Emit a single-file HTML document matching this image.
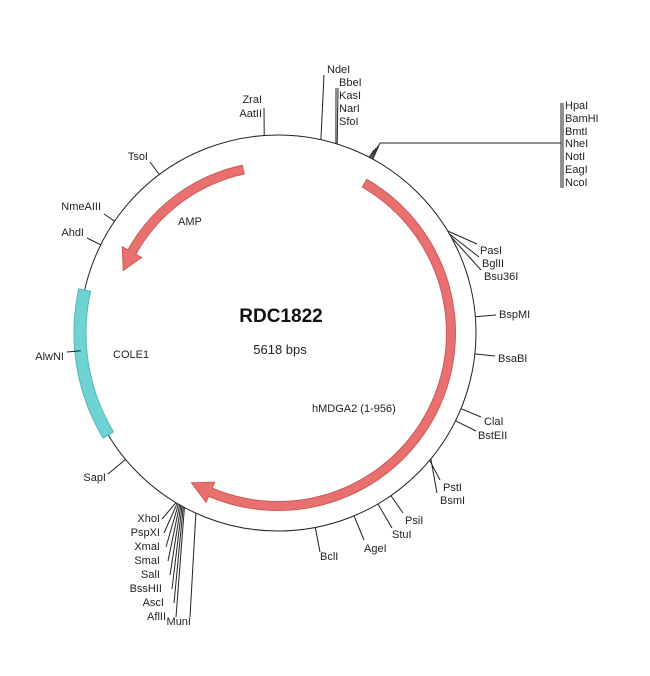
<!DOCTYPE html>
<html><head><meta charset="utf-8">
<style>
html,body{margin:0;padding:0;background:#fff;}
svg{display:block;}
text{font-family:"Liberation Sans",sans-serif;font-size:11px;fill:#222;}
</style></head>
<body>
<svg id="s" width="650" height="676" viewBox="0 0 650 676" xmlns="http://www.w3.org/2000/svg">
<circle cx="278" cy="333" r="198" fill="none" stroke="#222" stroke-width="1"/>
<g id="arcs"></g>
<g id="ticks" stroke="#222" stroke-width="1" fill="none"></g>
<text x="281" y="322" text-anchor="middle" style="font-size:19px;font-weight:bold;fill:#111">RDC1822</text>
<text x="280" y="354" text-anchor="middle" style="font-size:13px">5618 bps</text>
<text x="178" y="225">AMP</text>
<text x="113" y="358">COLE1</text>
<text x="312" y="412">hMDGA2 (1-956)</text>

<text x="327" y="73">NdeI</text>
<text x="339" y="86">BbeI</text>
<text x="339" y="99">KasI</text>
<text x="339" y="112">NarI</text>
<text x="339" y="125">SfoI</text>
<text x="262" y="103" text-anchor="end">ZraI</text>
<text x="262" y="117" text-anchor="end">AatII</text>
<text x="565" y="109">HpaI</text>
<text x="565" y="122">BamHI</text>
<text x="565" y="135">BmtI</text>
<text x="565" y="147">NheI</text>
<text x="565" y="160">NotI</text>
<text x="565" y="173">EagI</text>
<text x="565" y="186">NcoI</text>
<text x="148" y="160" text-anchor="end">TsoI</text>
<text x="101" y="210" text-anchor="end">NmeAIII</text>
<text x="84" y="236" text-anchor="end">AhdI</text>
<text x="64" y="360" text-anchor="end">AlwNI</text>
<text x="106" y="481" text-anchor="end">SapI</text>
<text x="160" y="522" text-anchor="end">XhoI</text>
<text x="160" y="536" text-anchor="end">PspXI</text>
<text x="160" y="550" text-anchor="end">XmaI</text>
<text x="160" y="564" text-anchor="end">SmaI</text>
<text x="160" y="578" text-anchor="end">SalI</text>
<text x="162" y="592" text-anchor="end">BssHII</text>
<text x="164" y="606" text-anchor="end">AscI</text>
<text x="166" y="620" text-anchor="end">AflII</text>
<text x="191" y="625" text-anchor="end">MunI</text>
<text x="480" y="254">PasI</text>
<text x="482" y="267">BglII</text>
<text x="484" y="280">Bsu36I</text>
<text x="499" y="318">BspMI</text>
<text x="498" y="362">BsaBI</text>
<text x="484" y="425">ClaI</text>
<text x="478" y="439">BstEII</text>
<text x="443" y="491">PstI</text>
<text x="440" y="504">BsmI</text>
<text x="405" y="524">PsiI</text>
<text x="392" y="538">StuI</text>
<text x="364" y="552">AgeI</text>
<text x="320" y="560">BclI</text>
</svg>
<script>
var cx=278,cy=333,R=198,NS="http://www.w3.org/2000/svg";
function P(r,a){a=a*Math.PI/180;return [cx+r*Math.cos(a),cy+r*Math.sin(a)];}
function el(tag,at,par){var e=document.createElementNS(NS,tag);for(var k in at)e.setAttribute(k,at[k]);document.getElementById(par).appendChild(e);return e;}
function arrow(r,a1,a2,w,hw,hl,fill,stroke){
  var dir=a2>a1?1:-1;var ab=a2-dir*hl;var pts=[],n=60,i;
  for(i=0;i<=n;i++)pts.push(P(r+w/2,a1+(ab-a1)*i/n));
  pts.push(P(r+hw/2,ab));pts.push(P(r,a2));pts.push(P(r-hw/2,ab));
  for(i=n;i>=0;i--)pts.push(P(r-w/2,a1+(ab-a1)*i/n));
  el("path",{d:"M"+pts.map(function(p){return p[0].toFixed(1)+","+p[1].toFixed(1)}).join("L")+"Z",fill:fill,stroke:stroke,"stroke-width":1},"arcs");
}
arrow(173,-60,120,9,22,7,"#e8716f","#cf5a58");
arrow(167,-102,-158,9,22,7,"#e8716f","#cf5a58");
(function(){var pts=[],i,a1=192.5,a2=149,n=40,w=12;
for(i=0;i<=n;i++)pts.push(P(R+w/2,a1+(a2-a1)*i/n));
for(i=n;i>=0;i--)pts.push(P(R-w/2,a1+(a2-a1)*i/n));
el("path",{d:"M"+pts.map(function(p){return p[0].toFixed(1)+","+p[1].toFixed(1)}).join("L")+"Z",fill:"#6fd3d3",stroke:"#4fb8b8","stroke-width":1},"arcs");})();
function tick(x,y,ang,extra){
  var a=ang!=null?ang:Math.atan2(y-cy,x-cx)*180/Math.PI;var p=P(R,a);
  var d="M"+p[0].toFixed(1)+","+p[1].toFixed(1)+(extra||"")+"L"+x+","+y;
  el("path",{d:d},"ticks");
}
tick(324,75,-77.5);
tick(336,88,-73);tick(338,88,-72.6);
tick(264,108,-94);
el("path",{d:"M380,143L561,143M561,103L561,188M563,103L563,188"},"ticks");
tick(376,148,-62.2);tick(378,146,-61.8);tick(380,143,-61.4);tick(374,150,-62.6);
tick(150,162,null);
tick(104,214,null);
tick(87,238,null);
tick(67,352,null);
tick(108,474,null);
tick(162,519,121);tick(164,533,120.6);tick(166,547,120.2);tick(168,561,119.8);tick(170,575,119.4);tick(172,589,119);tick(174,603,118.6);tick(176,617,118.2);
tick(190,617,114.5);
tick(477,244,-31);tick(479,257,-30);tick(481,270,-29);
tick(496,315,null);
tick(495,356,null);
tick(481,417,null);tick(476,431,null);
tick(440,480,40);tick(437,493,39.5);
tick(403,513,null);
tick(392,528,null);
tick(364,540,null);
tick(320,552,null);
</script>
</body></html>
